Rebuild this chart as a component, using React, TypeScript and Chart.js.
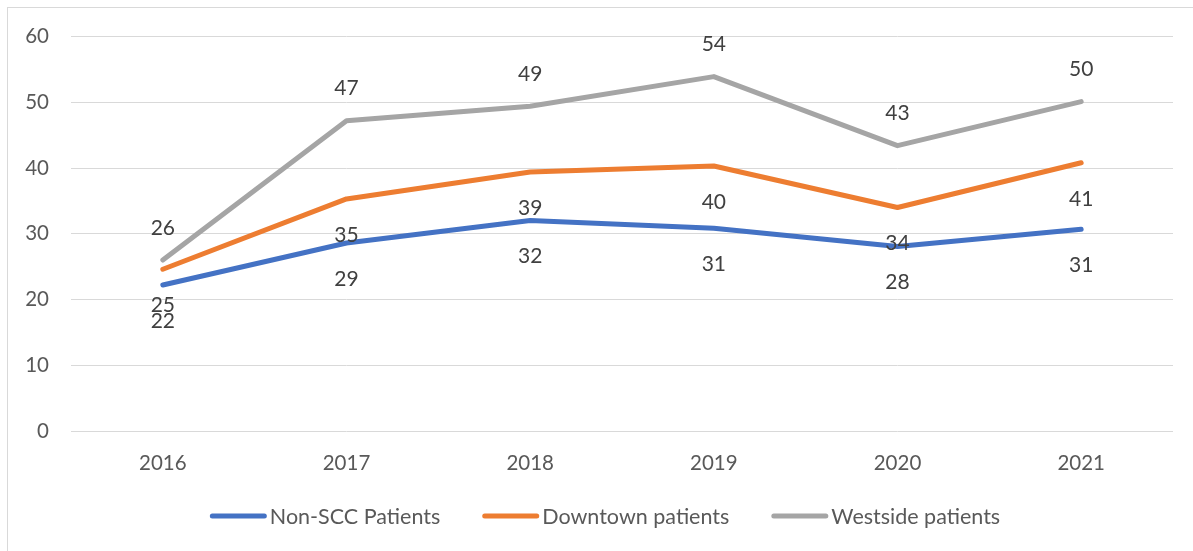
import React, { useEffect, useRef } from "react";
import { Chart, registerables } from "chart.js";

Chart.register(...registerables);

const categories = ["2016", "2017", "2018", "2019", "2020", "2021"];
const nonSccPatients = [22.2, 28.6, 32.0, 30.85, 28.05, 30.7];
const downtownPatients = [24.6, 35.3, 39.4, 40.3, 34.0, 40.8];
const westsidePatients = [26.0, 47.2, 49.4, 53.9, 43.4, 50.1];
const yTickValues = [0, 10, 20, 30, 40, 50, 60];
const seriesNames = ["Non-SCC Patients", "Downtown patients", "Westside patients"];
const seriesColors = ["#4472C4", "#ED7D31", "#A5A5A5"];
const labelAbove = [false, false, true];

const FONT = "Lato, Carlito, Calibri, 'Liberation Sans', sans-serif";
const AXIS_TEXT = "#595959";
const LABEL_TEXT = "#404040";
const GRID = "#d9d9d9";

const dataLabelPlugin = {
  id: "dataLabels",
  afterDatasetsDraw(chart: any) {
    const ctx = chart.ctx;
    ctx.save();
    ctx.font = `21px ${FONT}`;
    ctx.fillStyle = LABEL_TEXT;
    ctx.textAlign = "center";
    ctx.textBaseline = "middle";
    chart.data.datasets.forEach((ds: any, i: number) => {
      const meta = chart.getDatasetMeta(i);
      meta.data.forEach((pt: any, j: number) => {
        const v = ds.data[j];
        const dy = labelAbove[i] ? -32 : 36;
        ctx.fillText(String(Math.round(v)), pt.x, pt.y + dy);
      });
    });
    ctx.restore();
  },
};

const legendPlugin = {
  id: "customLegend",
  afterDraw(chart: any) {
    const ctx = chart.ctx;
    ctx.save();
    ctx.font = `21.5px ${FONT}`;
    const lineLen = 57;
    const lineGap = 3;
    const itemGap = 42;
    const items = chart.data.datasets.map((ds: any) => ({
      label: ds.label,
      color: ds.borderColor,
      w: ctx.measureText(ds.label).width,
    }));
    const total =
      items.reduce((s: number, it: any) => s + lineLen + lineGap + it.w, 0) +
      itemGap * (items.length - 1);
    let x = 605 - total / 2;
    const y = 516;
    items.forEach((it: any) => {
      ctx.strokeStyle = it.color;
      ctx.lineWidth = 5;
      ctx.lineCap = "round";
      ctx.beginPath();
      ctx.moveTo(x + 2.5, y);
      ctx.lineTo(x + lineLen - 2.5, y);
      ctx.stroke();
      ctx.fillStyle = AXIS_TEXT;
      ctx.textBaseline = "middle";
      ctx.textAlign = "left";
      ctx.fillText(it.label, x + lineLen + lineGap, y + 1);
      x += lineLen + lineGap + it.w + itemGap;
    });
    ctx.restore();
  },
};

export default function App() {
  const canvasRef = useRef<HTMLCanvasElement | null>(null);

  useEffect(() => {
    if (!canvasRef.current) return;
    const seriesData = [nonSccPatients, downtownPatients, westsidePatients];
    const chart = new Chart(canvasRef.current, {
      type: "line",
      data: {
        labels: categories,
        datasets: seriesData.map((d, i) => ({
          label: seriesNames[i],
          data: d,
          borderColor: seriesColors[i],
          backgroundColor: seriesColors[i],
          borderWidth: 5,
          borderCapStyle: "round",
          borderJoinStyle: "round",
          pointRadius: 0,
          pointHoverRadius: 0,
          tension: 0,
          fill: false,
          order: 3 - i,
        })),
      },
      options: {
        animation: false,
        responsive: false,
        maintainAspectRatio: false,
        layout: { padding: { top: 36.5, right: 20, left: 0, bottom: 70 } },
        plugins: {
          legend: { display: false },
          tooltip: { enabled: false },
        },
        scales: {
          x: {
            offset: true,
            grid: { display: false, drawTicks: false },
            border: { display: false },
            ticks: {
              color: AXIS_TEXT,
              font: { family: FONT, size: 20.5 },
              padding: 20,
              maxRotation: 0,
            },
            afterFit: (scale: any) => {
              scale.height = 50;
            },
          },
          y: {
            min: 0,
            max: 60,
            grid: { color: GRID, lineWidth: 1, drawTicks: false },
            border: { display: false },
            ticks: {
              color: AXIS_TEXT,
              font: { family: FONT, size: 20.5 },
              padding: 22,
              stepSize: 10,
            },
            afterBuildTicks: (scale: any) => {
              scale.ticks = yTickValues.map((v) => ({ value: v }));
            },
            afterFit: (scale: any) => {
              scale.width = 71;
            },
          },
        },
      },
      plugins: [dataLabelPlugin, legendPlugin],
    });
    return () => chart.destroy();
  }, []);

  return (
    <div style={{ position: "fixed", left: 0, top: 0, width: 1193, height: 551, background: "#fff", overflow: "hidden" }}>
      <div
        style={{
          position: "absolute",
          left: 7,
          top: 7,
          width: 1200,
          height: 560,
          borderLeft: `1px solid ${GRID}`,
          borderTop: `1px solid ${GRID}`,
        }}
      />
      <canvas ref={canvasRef} width={1193} height={551} style={{ position: "absolute", left: 0, top: 0, display: "block" }} />
    </div>
  );
}
